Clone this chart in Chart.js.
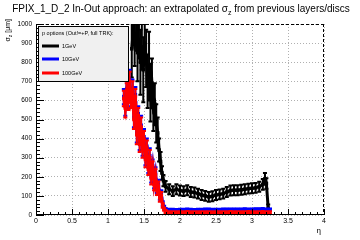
<!DOCTYPE html>
<html>
<head>
<meta charset="utf-8">
<script src="https://cdn.jsdelivr.net/npm/chart.js@4.4.1/dist/chart.umd.min.js"></script>
<style>
  html, body { margin: 0; padding: 0; background: #fff; }
</style>
</head>
<body>
<canvas id="sigmaChart" width="360" height="240"></canvas>
<script>
// Values
const etaBlack = [1.33, 1.35, 1.37, 1.39, 1.41, 1.43, 1.45, 1.47, 1.49, 1.51, 1.53, 1.55, 1.57, 1.59, 1.61, 1.63, 1.65, 1.67, 1.69, 1.71, 1.73, 1.75, 1.77,
  1.80, 1.85, 1.90, 1.95, 2.00, 2.05, 2.10, 2.15, 2.20, 2.25, 2.30, 2.35, 2.40, 2.45, 2.50, 2.55, 2.60, 2.65, 2.70, 2.75, 2.80, 2.85, 2.90, 2.95, 3.00, 3.05, 3.10, 3.15,
  3.18, 3.20, 3.225];
const sigmaBlack = [870, 960, 900, 940, 850, 920, 800, 880, 760, 900, 820, 700, 780, 640, 690, 560, 580, 480, 430, 340, 280, 220, 180,
  150, 135, 125, 135, 128, 125, 130, 120, 118, 112, 105, 100, 95, 98, 105, 108, 112, 120, 128, 130, 130, 132, 135, 138, 140, 142, 148, 160,
  190, 165, 35];
const errBlack = [150, 60, 120, 80, 150, 100, 170, 120, 170, 100, 150, 140, 180, 150, 130, 120, 110, 100, 80, 60, 50, 35, 30,
  28, 26, 26, 26, 26, 26, 26, 26, 26, 26, 26, 26, 26, 26, 26, 26, 26, 26, 26, 26, 26, 26, 26, 26, 26, 26, 26, 28,
  30, 28, 20];

const etaLow = [1.22, 1.24, 1.26, 1.28, 1.30, 1.32, 1.34, 1.36, 1.38, 1.40, 1.42, 1.44, 1.46, 1.48, 1.50, 1.52, 1.54, 1.56, 1.58, 1.60,
  1.62, 1.64, 1.66, 1.68, 1.70, 1.72, 1.74, 1.76, 1.78, 1.80,
  1.85, 1.90, 1.95, 2.00, 2.05, 2.10, 2.15, 2.20, 2.25, 2.30, 2.35, 2.40, 2.45, 2.50, 2.55, 2.60, 2.65, 2.70, 2.75, 2.80,
  2.85, 2.90, 2.95, 3.00, 3.05, 3.10, 3.15, 3.20, 3.25];
const sigmaBlue = [620, 570, 660, 600, 710, 610, 650, 510, 630, 430, 530, 380, 470, 350, 410, 300, 360, 250, 310, 200,
  260, 170, 220, 140, 160, 100, 110, 60, 40, 30,
  27, 27, 26, 27, 27, 28, 27, 26, 27, 27, 28, 28, 27, 27, 27, 28, 28, 28, 28, 28,
  28, 29, 28, 28, 29, 29, 30, 28, 28];
const errBlue = [40, 50, 40, 40, 50, 40, 60, 50, 40, 50, 40, 40, 50, 40, 40, 40, 40, 30, 40, 30,
  30, 30, 30, 25, 25, 20, 20, 12, 8, 6,
  6, 6, 6, 6, 6, 6, 6, 6, 6, 6, 6, 6, 6, 6, 6, 6, 6, 6, 6, 6,
  6, 6, 6, 6, 6, 6, 6, 6, 6];
const sigmaRed = [610, 560, 650, 590, 700, 600, 640, 500, 620, 420, 520, 370, 460, 340, 400, 290, 350, 240, 300, 190,
  250, 160, 210, 130, 150, 90, 100, 50, 30, 18,
  12, 12, 11, 12, 12, 13, 12, 11, 11, 12, 12, 12, 11, 11, 12, 12, 12, 13, 12, 12,
  12, 12, 13, 12, 12, 12, 13, 12, 12];
const errRed = [40, 50, 40, 40, 50, 40, 60, 50, 40, 50, 40, 40, 50, 40, 40, 40, 40, 30, 40, 30,
  30, 30, 30, 25, 25, 20, 20, 12, 8, 8,
  8, 8, 8, 8, 8, 8, 8, 8, 8, 8, 8, 8, 8, 8, 8, 8, 8, 8, 8, 8,
  8, 8, 8, 8, 8, 8, 8, 8, 8];

const seriesNames = ['1GeV', '10GeV', '100GeV'];
const seriesColors = ['#000000', '#0000ff', '#ff0000'];
const legendTitle = 'p options (Out!=+P, full TRK):';
const titleParts = ['FPIX_1_D_2 In-Out approach: an extrapolated σ', 'z', ' from previous layers/discs'];

const FONT = "'Liberation Sans', Arial, sans-serif";

function toPoints(xs, ys) {
    return xs.map((x, i) => ({ x: x, y: ys[i] }));
}

const errorsByDataset = [errBlack, errBlue, errRed];

// Error bars drawn through the y scale, just under each dataset's line
const errorBars = {
    id: 'errorBars',
    beforeDatasetDraw(chart, args) {
        const errs = errorsByDataset[args.index];
        const yScale = chart.scales.y;
        const area = chart.chartArea;
        const ctx = chart.ctx;
        const ds = chart.data.datasets[args.index];
        ctx.save();
        ctx.beginPath();
        ctx.rect(area.left, area.top, area.right - area.left, area.bottom - area.top);
        ctx.clip();
        ctx.strokeStyle = ds.borderColor;
        ctx.lineWidth = 2;
        args.meta.data.forEach((pt, i) => {
            const v = ds.data[i].y;
            const yTop = yScale.getPixelForValue(v + errs[i]);
            const yBot = yScale.getPixelForValue(v - errs[i]);
            ctx.beginPath();
            ctx.moveTo(pt.x, yTop);
            ctx.lineTo(pt.x, yBot);
            // small horizontal caps, like the chunky ROOT bars
            ctx.moveTo(pt.x - 2, yTop);
            ctx.lineTo(pt.x + 2, yTop);
            ctx.moveTo(pt.x - 2, yBot);
            ctx.lineTo(pt.x + 2, yBot);
            ctx.stroke();
        });
        ctx.restore();
    }
};

// ROOT-like frame, inner ticks, titles and legend box
const rootFrame = {
    id: 'rootFrame',
    afterDraw(chart) {
        const ctx = chart.ctx;
        const a = chart.chartArea;
        const xs = chart.scales.x;
        const ys = chart.scales.y;
        ctx.save();
        ctx.strokeStyle = '#000';
        ctx.lineWidth = 1;

        // dashed top / right
        ctx.setLineDash([3, 2]);
        ctx.beginPath();
        ctx.moveTo(a.left, a.top + 0.5);
        ctx.lineTo(a.right, a.top + 0.5);
        ctx.moveTo(a.right - 0.5, a.top);
        ctx.lineTo(a.right - 0.5, a.bottom);
        ctx.stroke();
        ctx.setLineDash([]);

        // solid left / bottom
        ctx.beginPath();
        ctx.moveTo(a.left + 0.5, a.top);
        ctx.lineTo(a.left + 0.5, a.bottom);
        ctx.moveTo(a.left, a.bottom - 0.5);
        ctx.lineTo(a.right, a.bottom - 0.5);
        ctx.stroke();

        // ticks inside the frame
        ctx.beginPath();
        for (let v = 0; v <= 1000; v += 20) {
            const y = Math.round(ys.getPixelForValue(v)) + 0.5;
            const len = v % 100 === 0 ? 8 : 4;
            ctx.moveTo(a.left, y);
            ctx.lineTo(a.left + len, y);
        }
        for (let k = 0; k <= 40; k++) {
            const x = Math.round(xs.getPixelForValue(k / 10)) + 0.5;
            const len = k % 5 === 0 ? 6 : 3;
            ctx.moveTo(x, a.bottom);
            ctx.lineTo(x, a.bottom - len);
        }
        ctx.stroke();

        // main title with subscript
        ctx.fillStyle = '#000';
        ctx.textBaseline = 'alphabetic';
        ctx.font = '10px ' + FONT;
        const w0 = ctx.measureText(titleParts[0]).width;
        const w2 = ctx.measureText(titleParts[2]).width;
        ctx.font = '7px ' + FONT;
        const w1 = ctx.measureText(titleParts[1]).width;
        let tx = 181 - (w0 + w1 + w2) / 2;
        ctx.font = '10px ' + FONT;
        ctx.fillText(titleParts[0], tx, 12);
        tx += w0;
        ctx.font = '7px ' + FONT;
        ctx.fillText(titleParts[1], tx, 15);
        tx += w1;
        ctx.font = '10px ' + FONT;
        ctx.fillText(titleParts[2], tx, 12);

        // y axis title, rotated, ending at the top of the axis
        ctx.save();
        ctx.translate(10, 19);
        ctx.rotate(-Math.PI / 2);
        ctx.font = '7px ' + FONT;
        const ya = 'σ', yb = 'z', yc = ' [μm]';
        const wa = ctx.measureText(ya).width, wc = ctx.measureText(yc).width;
        ctx.font = '5px ' + FONT;
        const wb = ctx.measureText(yb).width;
        let px = -(wa + wb + wc);
        ctx.font = '7px ' + FONT;
        ctx.fillText(ya, px, 0);
        px += wa;
        ctx.font = '5px ' + FONT;
        ctx.fillText(yb, px, 2);
        px += wb;
        ctx.font = '7px ' + FONT;
        ctx.fillText(yc, px, 0);
        ctx.restore();

        // x axis title
        ctx.font = '8px ' + FONT;
        ctx.textAlign = 'right';
        ctx.fillText('η', a.right - 3, 233);
        ctx.textAlign = 'left';

        // legend box
        ctx.fillStyle = '#f0f0f0';
        ctx.fillRect(38, 26, 91, 56);
        ctx.strokeStyle = '#000';
        ctx.strokeRect(38.5, 26.5, 90, 55);
        ctx.fillStyle = '#000';
        ctx.font = '5.5px ' + FONT;
        ctx.fillText(legendTitle, 42, 35);
        const rowY = [46, 59, 73];
        seriesNames.forEach((name, i) => {
            ctx.strokeStyle = seriesColors[i];
            ctx.lineWidth = 3;
            ctx.beginPath();
            ctx.moveTo(42, rowY[i]);
            ctx.lineTo(59, rowY[i]);
            ctx.stroke();
            ctx.fillStyle = '#000';
            ctx.fillText(name, 62, rowY[i] + 2);
        });
        ctx.restore();
    }
};

const datasets = [
    { pts: toPoints(etaBlack, sigmaBlack), order: 3 },
    { pts: toPoints(etaLow, sigmaBlue), order: 2 },
    { pts: toPoints(etaLow, sigmaRed), order: 1 }
].map((d, i) => ({
    label: seriesNames[i],
    data: d.pts,
    order: d.order,
    showLine: true,
    borderColor: seriesColors[i],
    backgroundColor: seriesColors[i],
    borderWidth: 3,
    pointStyle: 'rect',
    pointRadius: 2.5,
    pointBorderWidth: 0,
    tension: 0
}));

const ctx = document.getElementById('sigmaChart').getContext('2d');
const sigmaChart = new Chart(ctx, {
    type: 'scatter',
    data: { datasets: datasets },
    plugins: [errorBars, rootFrame],
    options: {
        responsive: false,
        animation: false,
        devicePixelRatio: 1,
        layout: { padding: { left: 0, right: 36, top: 24, bottom: 0 } },
        plugins: {
            legend: { display: false },
            tooltip: { enabled: false },
            title: { display: false }
        },
        scales: {
            x: {
                type: 'linear',
                min: 0,
                max: 4,
                afterFit(scale) { scale.height = 25; },
                border: { display: false, dash: [1, 2] },
                grid: { color: '#b0b0b0', drawTicks: false },
                ticks: {
                    stepSize: 0.5,
                    padding: 2,
                    color: '#000',
                    font: { family: FONT, size: 7 },
                    maxRotation: 0,
                    callback: v => String(v)
                }
            },
            y: {
                type: 'linear',
                min: 0,
                max: 1000,
                afterFit(scale) { scale.width = 36; },
                border: { display: false, dash: [1, 2] },
                grid: { color: '#b0b0b0', drawTicks: false },
                ticks: {
                    stepSize: 100,
                    padding: 4,
                    color: '#000',
                    font: { family: FONT, size: 6.5 },
                    callback: v => String(v)
                }
            }
        }
    }
});
</script>
</body>
</html>
